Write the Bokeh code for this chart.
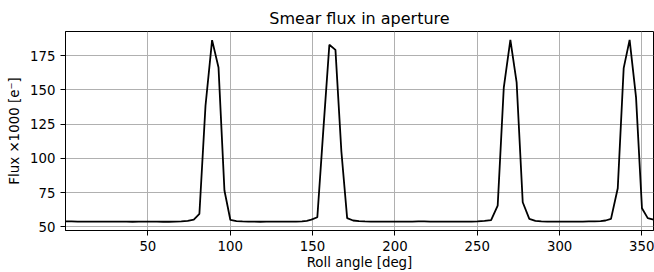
from bokeh.plotting import figure
from bokeh.models import Range1d, FixedTicker
from bokeh.embed import file_html
from bokeh.resources import INLINE

# Roll angle [deg] and smear flux (x1000 e-)
roll = [0.0, 3.7, 7.4, 11.1, 14.8, 18.5, 22.2, 25.9, 29.6, 33.3, 37.0, 40.7,
        44.4, 48.1, 51.8, 55.5, 59.2, 62.9, 66.6, 70.3, 74.2,
        77.9, 81.3, 85.0, 89.0, 92.9, 96.5, 100.1,
        103.8, 107.4, 111.0, 114.6, 118.3, 121.9, 125.5, 129.1, 132.7, 136.4,
        140.0, 143.6, 146.5, 149.3,
        152.9, 156.5, 160.2, 163.9, 167.5, 171.0, 174.6,
        178.2, 181.8, 185.4, 189.0, 192.6, 196.2, 199.8, 203.4, 207.0, 210.6,
        214.2, 217.8, 221.4, 225.0, 228.6, 232.2, 235.8, 239.4, 243.0, 246.6,
        250.2, 254.4,
        258.4, 262.4, 266.1, 270.1, 273.9, 277.6, 281.6,
        285.3, 288.9, 292.5, 296.1, 299.7, 303.3, 306.9, 310.5, 314.1, 317.7,
        321.3, 324.9, 327.9,
        331.2, 335.3, 338.9, 342.5, 346.4, 350.0, 353.5, 357.0]
flux = [53.9, 53.9, 53.8, 53.8, 53.8, 53.8, 53.8, 53.8, 53.8, 53.8, 53.8, 53.7,
        53.8, 53.8, 53.8, 53.8, 53.7, 53.7, 53.8, 54.0, 54.4,
        55.3, 59.5, 138.4, 186.3, 166.3, 76.5, 55.0,
        54.2, 53.9, 53.8, 53.8, 53.7, 53.8, 53.8, 53.8, 53.8, 53.8,
        53.8, 54.0, 54.4, 55.2,
        57.0, 120.0, 182.9, 179.2, 105.0, 56.3, 54.6,
        54.1, 53.9, 53.8, 53.8, 53.8, 53.8, 53.8, 53.8, 53.8, 53.8,
        53.9, 53.9, 53.8, 53.8, 53.8, 53.8, 53.8, 53.8, 53.8, 53.8,
        54.0, 54.3,
        54.8, 65.5, 151.7, 186.5, 155.4, 67.9, 55.8,
        54.4, 54.0, 53.8, 53.8, 53.8, 53.8, 53.8, 53.8, 53.8, 53.9,
        54.0, 54.2, 54.6,
        55.8, 78.1, 165.9, 186.5, 144.5, 63.6, 56.3, 55.3]

x_ticks = [50, 100, 150, 200, 250, 300, 350]
y_ticks = [50, 75, 100, 125, 150, 175]

FONT = "DejaVu Sans"

p = figure(width=654, height=272, output_backend="svg", toolbar_location=None,
           x_range=Range1d(0, 357.0), y_range=Range1d(47.3, 192.6),
           min_border_left=65, min_border_right=1, min_border_top=31,
           min_border_bottom=42, title="Smear flux in aperture")

p.background_fill_color = "white"
p.border_fill_color = "white"
p.outline_line_color = "black"
p.outline_line_width = 1

p.title.align = "center"
p.title.text_font = FONT
p.title.text_font_size = "16px"
p.title.text_font_style = "normal"
p.title.text_color = "black"
p.title.standoff = 8

p.line(roll, flux, line_color="black", line_width=1.8)

for ax in (p.xaxis[0], p.yaxis[0]):
    ax.axis_line_color = "black"
    ax.axis_line_width = 1
    ax.major_tick_line_color = "black"
    ax.major_tick_line_width = 1
    ax.major_tick_in = 0
    ax.major_tick_out = 5
    ax.minor_tick_line_color = None
    ax.major_label_text_font = FONT
    ax.major_label_text_font_size = "13.3px"
    ax.major_label_text_color = "black"
    ax.axis_label_text_font = FONT
    ax.axis_label_text_font_size = "13.4px"
    ax.axis_label_text_font_style = "normal"
    ax.axis_label_text_color = "black"

p.xaxis.ticker = FixedTicker(ticks=x_ticks)
p.yaxis.ticker = FixedTicker(ticks=y_ticks)
p.xaxis.major_label_standoff = 5
p.yaxis.major_label_standoff = 5
p.xaxis.axis_label = "Roll angle [deg]"
p.yaxis.axis_label = "Flux \u00d71000 [e\u207b]"
p.xaxis.axis_label_standoff = 1
p.yaxis.axis_label_standoff = 5

for g in (p.xgrid[0], p.ygrid[0]):
    g.grid_line_color = "#b0b0b0"
    g.grid_line_width = 1
p.xgrid.ticker = FixedTicker(ticks=x_ticks)
p.ygrid.ticker = FixedTicker(ticks=y_ticks)

open("out.html", "w").write(file_html(p, INLINE))
